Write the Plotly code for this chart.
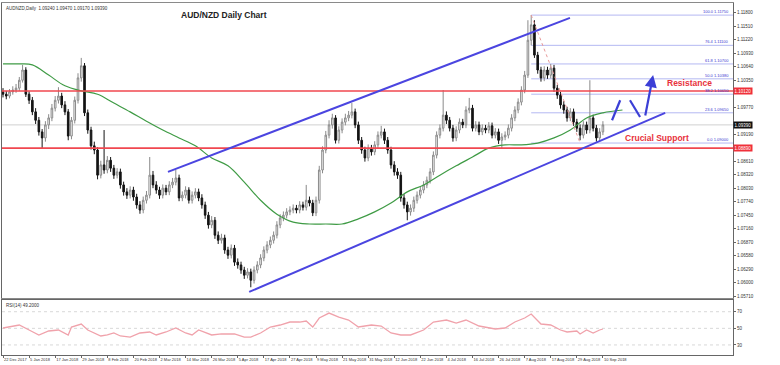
import plotly.graph_objects as go

# ---------------- data ----------------
date_labels = ["22 Dec 2017", "5 Jan 2018", "17 Jan 2018", "29 Jan 2018", "8 Feb 2018",
               "20 Feb 2018", "2 Mar 2018", "14 Mar 2018", "26 Mar 2018", "5 Apr 2018",
               "17 Apr 2018", "27 Apr 2018", "9 May 2018", "21 May 2018", "31 May 2018",
               "12 Jun 2018", "22 Jun 2018", "4 Jul 2018", "16 Jul 2018", "26 Jul 2018",
               "7 Aug 2018", "17 Aug 2018", "29 Aug 2018", "10 Sep 2018"]
date_label_bars = [0, 8, 16, 24, 32, 40, 48, 56, 64, 72, 80, 88, 96, 104, 112, 120,
                   128, 136, 144, 152, 160, 168, 176, 184]

open_ = [1.1010,1.1005,1.1001,1.1010,1.1014,1.1018,1.1035,1.1057,1.1005,1.0992,
1.0967,1.0949,1.0924,1.0911,1.0939,1.0954,1.0975,1.0992,1.1001,1.0982,
1.0967,1.0915,1.0949,1.0992,1.1040,1.1066,1.0965,1.0928,1.0894,1.0885,
1.0831,1.0853,1.0842,1.0863,1.0846,1.0831,1.0838,1.0810,1.0795,1.0788,
1.0799,1.0784,1.0767,1.0756,1.0777,1.0788,1.0831,1.0810,1.0799,1.0788,
1.0803,1.0795,1.0810,1.0816,1.0825,1.0782,1.0788,1.0799,1.0777,1.0788,
1.0795,1.0782,1.0767,1.0745,1.0724,1.0734,1.0702,1.0691,1.0696,1.0670,
1.0659,1.0674,1.0644,1.0638,1.0627,1.0616,1.0623,1.0605,1.0627,1.0638,
1.0653,1.0670,1.0681,1.0691,1.0702,1.0724,1.0739,1.0745,1.0752,1.0756,
1.0760,1.0756,1.0767,1.0762,1.0777,1.0771,1.0750,1.0777,1.0842,1.0885,
1.0917,1.0939,1.0954,1.0906,1.0928,1.0945,1.0954,1.0960,1.0967,1.0939,
1.0906,1.0885,1.0868,1.0889,1.0881,1.0896,1.0917,1.0924,1.0906,1.0885,
1.0853,1.0838,1.0831,1.0782,1.0767,1.0752,1.0760,1.0777,1.0788,1.0799,
1.0810,1.0820,1.0838,1.0874,1.0917,1.0932,1.0960,1.0949,1.0932,1.0911,
1.0928,1.0945,1.0939,1.0971,1.0975,1.0932,1.0939,1.0924,1.0932,1.0928,
1.0937,1.0917,1.0924,1.0906,1.0913,1.0917,1.0932,1.0954,1.0971,1.0988,
1.1014,1.1046,1.1121,1.1154,1.1089,1.1057,1.1040,1.1057,1.1046,1.1061,
1.1018,1.1003,1.0982,1.0971,1.0954,1.0967,1.0945,1.0932,1.0917,1.0939,
1.0928,1.0954,1.0932,1.0911,1.0924]

high = [1.1018,1.1012,1.1016,1.1022,1.1027,1.1042,1.1068,1.1063,1.1011,1.0999,
1.0975,1.0956,1.0930,1.0947,1.0962,1.0984,1.1001,1.1020,1.1008,1.0990,
1.0973,1.0956,1.1000,1.1050,1.1083,1.1072,1.0972,1.0935,1.0903,1.0891,
1.0862,1.0928,1.0872,1.0870,1.0853,1.0846,1.0845,1.0817,1.0803,1.0807,
1.0806,1.0791,1.0775,1.0785,1.0797,1.0870,1.0840,1.0818,1.0806,1.0811,
1.0810,1.0818,1.0825,1.0842,1.0832,1.0796,1.0807,1.0805,1.0796,1.0803,
1.0802,1.0790,1.0774,1.0752,1.0743,1.0741,1.0710,1.0705,1.0703,1.0677,
1.0682,1.0681,1.0652,1.0645,1.0634,1.0631,1.0630,1.0635,1.0646,1.0661,
1.0678,1.0689,1.0699,1.0710,1.0732,1.0747,1.0753,1.0760,1.0764,1.0768,
1.0767,1.0775,1.0774,1.0810,1.0785,1.0778,1.0785,1.0851,1.0893,1.0926,
1.0949,1.0963,1.0960,1.0936,1.0953,1.0963,1.0969,1.0986,1.0974,1.0946,
1.0913,1.0892,1.0897,1.0896,1.0904,1.0925,1.0937,1.0931,1.0913,1.0892,
1.0861,1.0846,1.0838,1.0790,1.0774,1.0768,1.0785,1.0796,1.0807,1.0818,
1.0828,1.0846,1.0882,1.0925,1.0940,1.1014,1.0968,1.0956,1.0939,1.0936,
1.0953,1.0952,1.0979,1.0997,1.0982,1.0947,1.0946,1.0940,1.0939,1.0945,
1.0944,1.0932,1.0931,1.0921,1.0925,1.0940,1.0962,1.0979,1.0996,1.1022,
1.1055,1.1164,1.1175,1.1164,1.1096,1.1064,1.1065,1.1064,1.1070,1.1068,
1.1025,1.1010,1.0990,1.0978,1.0975,1.0974,1.0952,1.0940,1.0947,1.0946,
1.1035,1.0961,1.0939,1.0932,1.0947]

low = [1.0998,1.0994,1.0996,1.1004,1.1008,1.1012,1.1030,1.0999,1.0984,1.0960,
1.0941,1.0916,1.0889,1.0903,1.0930,1.0947,1.0968,1.0985,1.0975,1.0960,
1.0906,1.0908,1.0942,1.0985,1.1032,1.0958,1.0920,1.0886,1.0876,1.0822,
1.0824,1.0834,1.0835,1.0838,1.0823,1.0824,1.0802,1.0787,1.0780,1.0781,
1.0776,1.0759,1.0748,1.0749,1.0770,1.0781,1.0803,1.0791,1.0780,1.0781,
1.0788,1.0788,1.0803,1.0809,1.0775,1.0775,1.0781,1.0770,1.0770,1.0781,
1.0775,1.0759,1.0737,1.0716,1.0717,1.0694,1.0683,1.0684,1.0662,1.0651,
1.0652,1.0636,1.0630,1.0619,1.0608,1.0609,1.0590,1.0598,1.0620,1.0631,
1.0646,1.0663,1.0674,1.0684,1.0695,1.0717,1.0732,1.0738,1.0745,1.0749,
1.0749,1.0749,1.0755,1.0755,1.0764,1.0743,1.0743,1.0770,1.0835,1.0878,
1.0910,1.0931,1.0899,1.0899,1.0921,1.0938,1.0947,1.0953,1.0932,1.0898,
1.0877,1.0860,1.0861,1.0873,1.0874,1.0889,1.0910,1.0898,1.0877,1.0845,
1.0830,1.0823,1.0774,1.0759,1.0734,1.0744,1.0752,1.0770,1.0781,1.0792,
1.0803,1.0813,1.0831,1.0867,1.0910,1.0925,1.0941,1.0925,1.0903,1.0904,
1.0921,1.0932,1.0932,1.0964,1.0925,1.0925,1.0917,1.0917,1.0921,1.0921,
1.0910,1.0910,1.0898,1.0889,1.0906,1.0910,1.0925,1.0947,1.0964,1.0981,
1.1007,1.1040,1.1110,1.1083,1.1049,1.1032,1.1033,1.1038,1.1039,1.1010,
1.0995,1.0974,1.0963,1.0946,1.0947,1.0937,1.0924,1.0906,1.0910,1.0920,
1.0921,1.0925,1.0903,1.0904,1.0917]

close = [1.1005,1.1001,1.1010,1.1014,1.1018,1.1035,1.1057,1.1005,1.0992,1.0967,
1.0949,1.0924,1.0911,1.0939,1.0954,1.0975,1.0992,1.1001,1.0982,1.0967,
1.0915,1.0949,1.0992,1.1040,1.1066,1.0965,1.0928,1.0894,1.0885,1.0831,
1.0853,1.0842,1.0863,1.0846,1.0831,1.0838,1.0810,1.0795,1.0788,1.0799,
1.0784,1.0767,1.0756,1.0777,1.0788,1.0831,1.0810,1.0799,1.0788,1.0803,
1.0795,1.0810,1.0816,1.0825,1.0782,1.0788,1.0799,1.0777,1.0788,1.0795,
1.0782,1.0767,1.0745,1.0724,1.0734,1.0702,1.0691,1.0696,1.0670,1.0659,
1.0674,1.0644,1.0638,1.0627,1.0616,1.0623,1.0605,1.0627,1.0638,1.0653,
1.0670,1.0681,1.0691,1.0702,1.0724,1.0739,1.0745,1.0752,1.0756,1.0760,
1.0756,1.0767,1.0762,1.0777,1.0771,1.0750,1.0777,1.0842,1.0885,1.0917,
1.0939,1.0954,1.0906,1.0928,1.0945,1.0954,1.0960,1.0967,1.0939,1.0906,
1.0885,1.0868,1.0889,1.0881,1.0896,1.0917,1.0924,1.0906,1.0885,1.0853,
1.0838,1.0831,1.0782,1.0767,1.0752,1.0760,1.0777,1.0788,1.0799,1.0810,
1.0820,1.0838,1.0874,1.0917,1.0932,1.0960,1.0949,1.0932,1.0911,1.0928,
1.0945,1.0939,1.0971,1.0975,1.0932,1.0939,1.0924,1.0932,1.0928,1.0937,
1.0917,1.0924,1.0906,1.0913,1.0917,1.0932,1.0954,1.0971,1.0988,1.1014,
1.1046,1.1121,1.1154,1.1089,1.1057,1.1040,1.1057,1.1046,1.1061,1.1018,
1.1003,1.0982,1.0971,1.0954,1.0967,1.0945,1.0932,1.0917,1.0939,1.0928,
1.0954,1.0932,1.0911,1.0924,1.0939]

# 50-period moving average (green), read at sample bars
ma_bars = [0, 5, 9, 14, 19, 24, 29, 34, 39, 44, 49, 54, 59, 64, 69, 74, 79, 84, 89, 94,
           99, 104, 109, 114, 119, 124, 129, 134, 139, 144, 149, 154, 159, 164, 169, 174,
           179, 184, 190]
ma_vals = [1.1070, 1.1070, 1.1068, 1.1046, 1.1023, 1.1012, 1.1005, 1.0986, 1.0967, 1.0947,
           1.0928, 1.0911, 1.0894, 1.0868, 1.0851, 1.0816, 1.0777, 1.0747, 1.0730, 1.0726,
           1.0726, 1.0726, 1.0737, 1.0752, 1.0771, 1.0795, 1.0810, 1.0831, 1.0851, 1.0870,
           1.0889, 1.0896, 1.0896, 1.0900, 1.0911, 1.0928, 1.0954, 1.0965, 1.0971]

# RSI(14) read at sample bars
rsi_bars = [0, 2, 5, 8, 11, 14, 17, 20, 21, 24, 26, 30, 32, 34, 36, 39, 42, 45, 47, 50,
            53, 56, 58, 60, 64, 67, 71, 74, 76, 79, 82, 85, 88, 91, 93, 95, 97, 100, 103,
            106, 109, 113, 116, 119, 122, 125, 129, 132, 136, 139, 142, 146, 151, 154,
            157, 160, 162, 165, 168, 171, 173, 176, 177, 179, 181, 183, 184]
rsi_vals = [50.4, 51.6, 54.0, 48.0, 42.0, 46.8, 48.0, 42.0, 51.6, 55.2, 48.0, 40.8, 42.0,
            44.4, 40.8, 39.5, 44.4, 45.6, 42.0, 45.6, 50.4, 44.4, 42.0, 48.0, 42.0, 43.2,
            43.2, 39.5, 39.5, 44.4, 51.6, 54.0, 57.6, 57.6, 58.8, 51.6, 62.4, 68.4, 63.6,
            60.0, 51.6, 54.0, 52.8, 44.4, 42.0, 42.0, 48.0, 57.6, 60.0, 56.4, 60.0, 52.8,
            49.2, 50.4, 57.6, 62.4, 67.2, 55.2, 54.0, 48.0, 45.6, 46.8, 43.2, 48.0, 44.4,
            48.0, 49.2]
rsi_levels = [30, 50, 70]

# horizontal levels
resistance_level = 1.1012
support_level = 1.0889
bid_level = 1.0939

# Fibonacci retracement (Aug high -> late Aug low)
fib_pcts = [0.0, 23.6, 38.2, 50.0, 61.8, 76.4, 100.0]
fib_prices = [1.0900, 1.0965, 1.1005, 1.1038, 1.1070, 1.1110, 1.1175]
fib_anchor_bars = [162, 177]

# trend channel (bar, price)
channel_upper = [(50.6, 1.0838), (173.9, 1.1169)]
channel_lower = [(75.5, 1.0580), (203.1, 1.0965)]

# projected path (bar, price)
path_seg1 = [(186.8, 1.0949), (189.3, 1.0992)]
path_seg2 = [(192.3, 1.0992), (195.4, 1.0956)]
path_arrow = [(196.9, 1.0956), (199.4, 1.1046)]

# ---------------- figure ----------------
bars = list(range(len(close)))
X_RANGE = [-0.31, 223.9]
Y_RANGE = [1.0567, 1.1201]
RSI_RANGE = [17.9, 84.0]
FONT = "Liberation Sans, Arial"

fig = go.Figure()

fig.add_trace(go.Candlestick(
    x=bars, open=open_, high=high, low=low, close=close,
    increasing=dict(line=dict(color="#8a8a8a", width=1), fillcolor="#ffffff"),
    decreasing=dict(line=dict(color="#141414", width=1), fillcolor="#141414"),
    whiskerwidth=0, xaxis="x", yaxis="y", showlegend=False, hoverinfo="skip"))

fig.add_trace(go.Scatter(x=ma_bars, y=ma_vals, mode="lines", line=dict(color="#3f9b45", width=1.2, shape="spline"),
                         xaxis="x", yaxis="y", showlegend=False, hoverinfo="skip"))

fig.add_trace(go.Scatter(x=rsi_bars, y=rsi_vals, mode="lines", line=dict(color="#f0a2ab", width=1.3),
                         xaxis="x2", yaxis="y2", showlegend=False, hoverinfo="skip"))

shapes = []
shapes.append(dict(type="line", xref="x", yref="y", x0=X_RANGE[0], x1=X_RANGE[1], y0=bid_level, y1=bid_level,
                   line=dict(color="#d0d0d0", width=1), layer="below"))
for p in fib_prices:
    shapes.append(dict(type="line", xref="x", yref="y", x0=fib_anchor_bars[0], x1=X_RANGE[1], y0=p, y1=p,
                       line=dict(color="#b4b8f2", width=1), layer="below"))
shapes.append(dict(type="line", xref="x", yref="y", x0=fib_anchor_bars[0], x1=fib_anchor_bars[1],
                   y0=fib_prices[-1], y1=fib_prices[0], line=dict(color="#e89a9a", width=1, dash="dot")))
for lv in (resistance_level, support_level):
    shapes.append(dict(type="line", xref="x", yref="y", x0=X_RANGE[0], x1=X_RANGE[1], y0=lv, y1=lv,
                       line=dict(color="#f0474f", width=1.6)))
for (a, b) in (channel_upper, channel_lower):
    shapes.append(dict(type="line", xref="x", yref="y", x0=a[0], y0=a[1], x1=b[0], y1=b[1],
                       line=dict(color="#4b45e0", width=2)))
for seg in (path_seg1, path_seg2):
    shapes.append(dict(type="line", xref="x", yref="y", x0=seg[0][0], y0=seg[0][1], x1=seg[1][0], y1=seg[1][1],
                       line=dict(color="#3b3fd6", width=2.2)))
for lv in rsi_levels:
    shapes.append(dict(type="line", xref="x2", yref="y2", x0=X_RANGE[0], x1=X_RANGE[1], y0=lv, y1=lv,
                       line=dict(color="#d8d8d8", width=1, dash="dot"), layer="below"))

annotations = []
annotations.append(dict(x=path_arrow[1][0], y=path_arrow[1][1], ax=path_arrow[0][0], ay=path_arrow[0][1],
                        xref="x", yref="y", axref="x", ayref="y", text="", showarrow=True,
                        arrowhead=2, arrowsize=1.1, arrowwidth=2.2, arrowcolor="#3b3fd6"))
annotations.append(dict(x=67.8, y=1.1175, xref="x", yref="y", text="<b>AUD/NZD Daily Chart</b>",
                        showarrow=False, font=dict(family=FONT, size=8.5, color="#222222")))
annotations.append(dict(x=210.7, y=1.1029, xref="x", yref="y", text="<b>Resistance</b>",
                        showarrow=False, font=dict(family=FONT, size=8.5, color="#e8323c")))
annotations.append(dict(x=200.6, y=1.0911, xref="x", yref="y", text="<b>Crucial Support</b>",
                        showarrow=False, font=dict(family=FONT, size=8.5, color="#e8323c")))
for pct, p in zip(fib_pcts, fib_prices):
    annotations.append(dict(x=223.2, y=p, xref="x", yref="y", xanchor="right", yanchor="bottom",
                            text=f"{pct:.1f} {p:.5f}", showarrow=False, yshift=-1,
                            font=dict(family=FONT, size=4, color="#3a3ad0")))
for lv, bg in ((resistance_level, "#f0303a"), (support_level, "#f0303a"), (bid_level, "#111111")):
    annotations.append(dict(x=1.0, y=lv, xref="paper", yref="y", xanchor="left", text=f"{lv:.5f}",
                            showarrow=False, bgcolor=bg, borderpad=0.5,
                            font=dict(family=FONT, size=4.5, color="#ffffff")))
annotations.append(dict(x=0.003, y=0.998, xref="paper", yref="paper", xanchor="left", yanchor="top",
                        text=f"AUDNZD,Daily  {open_[-1]:.5f} {high[-1]:.5f} {low[-1]:.5f} {close[-1]:.5f}",
                        showarrow=False, font=dict(family=FONT, size=4.5, color="#333333")))
annotations.append(dict(x=0.003, y=0.154, xref="paper", yref="paper", xanchor="left", yanchor="top",
                        text=f"RSI(14) {rsi_vals[-1]:.4f}", showarrow=False,
                        font=dict(family=FONT, size=4.5, color="#333333")))

# axis tick values, skipping those hidden behind the price tags
tags = (resistance_level, support_level, bid_level)
price_ticks = [round(1.0571 + 0.0029 * k, 4) for k in range(22)]
price_ticks = [t for t in price_ticks if all(abs(t - g) > 0.0012 for g in tags)]

fig.update_layout(
    width=780, height=365,
    margin=dict(l=2, r=47, t=3, b=10, autoexpand=False),
    paper_bgcolor="white", plot_bgcolor="white",
    showlegend=False,
    xaxis=dict(domain=[0, 1], range=X_RANGE, anchor="y", showticklabels=False, showgrid=False,
               zeroline=False, showline=True, linecolor="#8a8a8a", linewidth=1, mirror=True,
               automargin=False, rangeslider=dict(visible=False)),
    yaxis=dict(domain=[0.162, 1], range=Y_RANGE, side="right", showgrid=False, zeroline=False,
               tickvals=price_ticks, tickformat=".5f", ticks="outside", ticklen=2, tickcolor="#666",
               tickfont=dict(family=FONT, size=4.5, color="#333"), automargin=False,
               showline=True, linecolor="#666666", linewidth=1, mirror=True),
    xaxis2=dict(domain=[0, 1], range=X_RANGE, anchor="y2", matches="x", showgrid=False, zeroline=False,
                tickvals=date_label_bars, ticktext=date_labels, ticks="outside", ticklen=2, tickcolor="#666",
                ticklabelposition="outside right", tickangle=0, automargin=False,
                tickfont=dict(family=FONT, size=4, color="#333"),
                showline=True, linecolor="#666666", linewidth=1, mirror=True,
                rangeslider=dict(visible=False)),
    yaxis2=dict(domain=[0, 0.156], range=RSI_RANGE, side="right", showgrid=False, zeroline=False,
                tickvals=rsi_levels, ticks="outside", ticklen=2, tickcolor="#666", automargin=False,
                tickfont=dict(family=FONT, size=4.5, color="#333"),
                showline=True, linecolor="#666666", linewidth=1, mirror=True),
    shapes=shapes, annotations=annotations,
)

# remove the browser's default page margin so the 780x365 figure fills the window
page_fix = "document.body.style.margin='0';document.body.style.overflow='hidden';"

fig.write_html("out.html", post_script=page_fix, config={"displayModeBar": False})
